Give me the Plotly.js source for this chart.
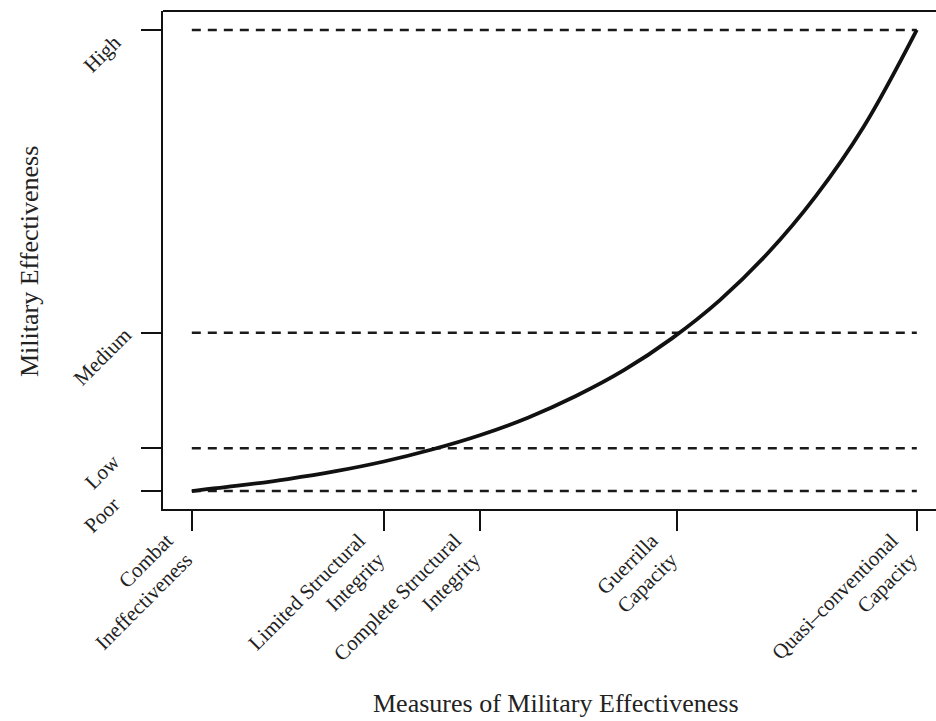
<!DOCTYPE html>
<html>
<head>
<meta charset="utf-8">
<script src="https://cdn.plot.ly/plotly-3.0.1.min.js"></script>
<style>html,body{margin:0;padding:0;background:#fff;}#chart{width:936px;height:721px;}</style>
</head>
<body>
<div id="chart"></div>
<script>
// Measures (x positions of categories, in arbitrary units)
const measureVals = [0, 2, 3, 5.05, 7.55];
const measureLabels = [
  "Combat<br>Ineffectiveness",
  "Limited Structural<br>Integrity",
  "Complete Structural<br>Integrity",
  "Guerrilla<br>Capacity",
  "Quasi\u2013conventional<br>Capacity"
];
// Effectiveness levels (y positions, arbitrary units)
const levelVals = [0, 9.3, 34.3, 100];
const levelLabels = ["Poor", "Low", "Medium", "High"];
// Curve points
const curveX = [0, 0.5, 1, 1.5, 2, 2.5, 3, 3.5, 4, 4.5, 5, 5.5, 6, 6.5, 7, 7.55];
const curveY = [0, 1.2, 2.6, 4.3, 6.4, 9.0, 12.1, 15.9, 20.6, 26.2, 33.1, 41.4, 51.6, 64.0, 79.1, 100];

const FONT = "Liberation Serif, Times New Roman, serif";
const xMin = measureVals[0], xMax = measureVals[measureVals.length - 1];

const traces = levelVals.map(v => ({
  x: [xMin, xMax], y: [v, v], mode: "lines", type: "scatter",
  line: {color: "#1a1a1a", width: 2.5, dash: "9px,7px"}, hoverinfo: "skip", showlegend: false
}));
traces.push({
  x: curveX, y: curveY, mode: "lines", type: "scatter",
  line: {color: "#111", width: 3.8, shape: "spline", smoothing: 1},
  showlegend: false
});

// y tick labels: centred, rotated, placed below-left of each tick (as in the reference)
const levelAnnotations = levelVals.map((v, i) => ({
  text: levelLabels[i], xref: "paper", yref: "y", x: -0.0789, y: v, yshift: -24,
  xanchor: "center", yanchor: "middle", textangle: -45, showarrow: false,
  font: {family: FONT, size: 21, color: "#222"}
}));

const layout = {
  width: 936, height: 721,
  margin: {l: 163, r: 0, t: 11, b: 212},
  paper_bgcolor: "#fff", plot_bgcolor: "#fff",
  font: {family: FONT, size: 21, color: "#222"},
  showlegend: false,
  xaxis: {
    range: [-0.30, 7.75], showgrid: false, zeroline: false,
    showline: true, linecolor: "#111", linewidth: 2,
    ticks: "outside", ticklen: 20, tickwidth: 2, tickcolor: "#111",
    tickvals: measureVals, ticktext: measureLabels, tickangle: -45,
    ticklabelshift: -25, ticklabelstandoff: -11, ticklabeloverflow: "allow",
    tickfont: {family: FONT, size: 21, color: "#222"}
  },
  yaxis: {
    range: [-3.9, 104.1], showgrid: false, zeroline: false,
    showline: true, linecolor: "#111", linewidth: 2,
    ticks: "outside", ticklen: 20, tickwidth: 2, tickcolor: "#111",
    tickvals: levelVals, showticklabels: false
  },
  shapes: [{type: "line", xref: "paper", yref: "paper", x0: 0, x1: 1, y0: 1, y1: 1,
            line: {color: "#111", width: 2}}],
  annotations: levelAnnotations.concat([
    {text: "Measures of Military Effectiveness", xref: "paper", yref: "paper",
     x: 0.5084, y: -0.3896, xanchor: "center", yanchor: "middle", showarrow: false,
     font: {family: FONT, size: 26, color: "#222"}},
    {text: "Military Effectiveness", xref: "paper", yref: "paper",
     x: -0.172, y: 0.496, xanchor: "center", yanchor: "middle", showarrow: false, textangle: -90,
     font: {family: FONT, size: 26, color: "#222"}}
  ])
};

Plotly.newPlot("chart", traces, layout, {displayModeBar: false, staticPlot: true});
</script>
</body>
</html>
